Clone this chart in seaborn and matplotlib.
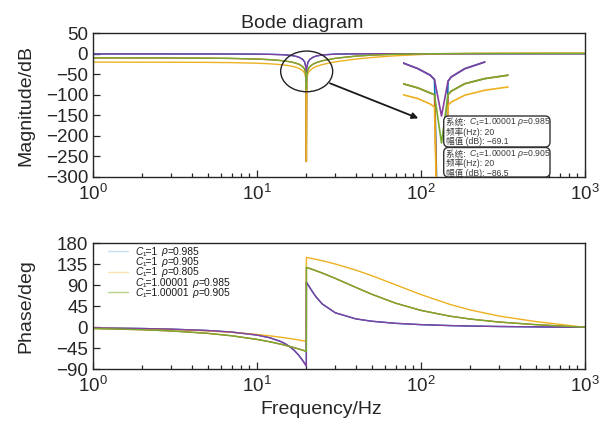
import numpy as np
import matplotlib
matplotlib.use('Agg')
import matplotlib.pyplot as plt
import seaborn as sns
from matplotlib.patches import Ellipse, FancyBboxPatch
from matplotlib.lines import Line2D

# ---------------- data ----------------
legend_c1 = ['1', '1', '1', '1.00001', '1.00001']
legend_rho = ['0.985', '0.905', '0.805', '0.985', '0.905']
series_colors = ['#0072BD', '#D95319', '#EDB120', '#8540A0', '#77AC30']
legend_alpha = [0.22, 0.0, 0.35, 0.0, 0.55]

freq_mag = [1, 2, 3, 5, 7, 10, 12, 14, 15, 16, 17, 18, 19, 19.5, 19.9, 20, 20.1, 20.5,
            21, 22, 23, 25, 30, 40, 50, 70, 100, 150, 200, 300, 500, 700, 1000]

mag_c1_rho0985 = [-0.36, -0.37, -0.39, -0.45, -0.56, -0.88, -1.31, -2.11, -2.80, -3.83, -5.47, -8.25,
                  -13.76, -19.65, -33.63, -263.0, -33.62, -19.64, -13.76, -8.24, -5.45, -2.76, -0.81,
                  -0.14, 0.00, 0.08, 0.11, 0.12, 0.13, 0.13, 0.13, 0.13, 0.13]
mag_c1_rho0905 = [-10.10, -10.18, -10.30, -10.71, -11.35, -12.86, -14.37, -16.50, -17.92, -19.71, -22.08,
                  -25.48, -31.40, -37.37, -51.35, -263.0, -51.27, -37.29, -31.23, -25.14, -21.57, -17.07,
                  -11.07, -5.68, -3.22, -1.12, -0.07, 0.46, 0.64, 0.76, 0.82, 0.84, 0.85]
mag_c1_rho0805 = [-20.39, -20.46, -20.58, -20.97, -21.58, -23.01, -24.45, -26.50, -27.87, -29.61, -31.91,
                  -35.25, -41.10, -47.03, -61.01, -263.0, -60.85, -46.87, -40.77, -34.60, -30.94, -26.23,
                  -19.66, -12.93, -9.09, -4.79, -1.81, 0.11, 0.85, 1.39, 1.68, 1.76, 1.78]
mag_c1b_rho0985 = [-0.36, -0.37, -0.39, -0.45, -0.56, -0.88, -1.31, -2.11, -2.80, -3.83, -5.47, -8.25,
                   -13.76, -19.65, -33.63, -69.1, -33.62, -19.64, -13.76, -8.24, -5.45, -2.76, -0.81,
                   -0.14, 0.00, 0.08, 0.11, 0.12, 0.13, 0.13, 0.13, 0.13, 0.13]
mag_c1b_rho0905 = [-10.10, -10.18, -10.30, -10.71, -11.35, -12.86, -14.37, -16.50, -17.92, -19.71, -22.08,
                   -25.48, -31.40, -37.37, -51.35, -86.5, -51.27, -37.29, -31.23, -25.14, -21.57, -17.07,
                   -11.07, -5.68, -3.22, -1.12, -0.07, 0.46, 0.64, 0.76, 0.82, 0.84, 0.85]

freq_phase = [1, 2, 3, 5, 7, 10, 12, 14, 15, 16, 17, 18, 19, 19.5, 19.9, 19.99, 20.01, 20.1, 20.5,
              21, 22, 23, 25, 30, 40, 50, 70, 100, 150, 200, 300, 500, 700, 1000]
phase_rho0985 = [-1.31, -2.63, -3.99, -6.89, -10.20, -16.59, -22.48, -30.67, -36.08, -42.66, -50.65,
                 -60.22, -71.24, -77.13, -81.94, -83.03, 96.73, 95.64, 90.84, 84.94, 73.95, 64.42,
                 49.99, 31.17, 18.09, 13.02, 8.52, 5.69, 3.67, 2.69, 1.71, 0.87, 0.44, 0.00]
phase_rho0905 = [-2.59, -5.18, -7.77, -12.93, -18.13, -25.92, -31.11, -36.29, -38.87, -41.44, -44.00,
                 -46.56, -49.09, -50.35, -51.35, -51.57, 128.38, 128.15, 127.16, 125.91, 123.45, 121.00,
                 116.21, 104.88, 85.59, 70.91, 51.67, 36.19, 23.87, 17.63, 11.23, 5.72, 2.91, 0.00]
phase_rho0805 = [-1.54, -3.08, -4.61, -7.68, -10.74, -15.31, -18.33, -21.34, -22.84, -24.32, -25.80,
                 -27.28, -28.76, -29.48, -30.07, -30.20, 149.77, 149.64, 149.06, 148.33, 146.88, 145.45,
                 142.60, 135.66, 122.59, 110.80, 91.13, 70.06, 49.10, 37.11, 24.03, 12.35, 6.30, 0.00]

# zoomed inset around the 20 Hz notch
inset_freq = [19.846, 19.906, 19.955, 19.972, 20.0, 20.026, 20.039, 20.093, 20.173, 20.266]
inset_c1_rho0985 = [-34.9, -38.6, -42.8, -45.6, -263.0, -46.7, -43.9, -38.6, -34.3, np.nan]
inset_c1_rho0905 = [-48.3, -51.0, -54.3, -55.4, -263.0, -55.4, -53.1, -48.3, -45.0, -42.8]
inset_c1_rho0805 = [-55.4, -57.9, -61.4, -63.3, -263.0, -62.2, -60.1, -55.7, -52.5, -50.4]
inset_c1b_rho0985 = [-34.9, -38.6, -42.8, -45.6, -69.1, -46.7, -43.9, -38.6, -34.3, np.nan]
inset_c1b_rho0905 = [-48.3, -51.0, -54.3, -55.4, -86.5, -55.4, -53.1, -48.3, -45.0, -42.8]

datatip_lines = [
    ('系统: ', r'$C_1$=1.00001 $\rho$=0.985', '频率(Hz): 20', '幅值 (dB): \u221269.1'),
    ('系统: ', r'$C_1$=1.00001 $\rho$=0.905', '频率(Hz): 20', '幅值 (dB): \u221286.5'),
]

mag_series = [mag_c1_rho0985, mag_c1_rho0905, mag_c1_rho0805, mag_c1b_rho0985, mag_c1b_rho0905]
phase_series = [phase_rho0985, phase_rho0905, phase_rho0805, phase_rho0985, phase_rho0905]
inset_series = [inset_c1_rho0985, inset_c1_rho0905, inset_c1_rho0805, inset_c1b_rho0985, inset_c1b_rho0905]

# ---------------- style ----------------
sns.set_style('ticks')
plt.rcParams['font.family'] = ['Liberation Sans', 'Noto Sans CJK SC', 'DejaVu Sans']
plt.rcParams['mathtext.fontset'] = 'custom'
plt.rcParams['mathtext.rm'] = 'Liberation Sans'
plt.rcParams['mathtext.it'] = 'Liberation Sans:italic'
plt.rcParams['mathtext.bf'] = 'Liberation Sans:bold'
plt.rcParams['axes.unicode_minus'] = True

W, H = 608, 422
fig = plt.figure(figsize=(W / 100, H / 100), dpi=100)
ax1 = fig.add_axes([93 / W, 1 - 176.7 / H, 492 / W, 143.4 / H])
ax2 = fig.add_axes([93 / W, 1 - 369.3 / H, 492 / W, 126 / H])

for vals, col in zip(mag_series, series_colors):
    sns.lineplot(x=freq_mag, y=vals, ax=ax1, color=col, linewidth=1.0,
                 estimator=None, sort=False, legend=False)
for vals, col in zip(phase_series, series_colors):
    sns.lineplot(x=freq_phase, y=vals, ax=ax2, color=col, linewidth=1.0,
                 estimator=None, sort=False, legend=False)

spine_col = '#262626'
for ax in (ax1, ax2):
    ax.set_xscale('log')
    ax.set_xlim(1, 1000)
    ax.tick_params(which='both', direction='in', top=False, right=False,
                   labelsize=13.5, color=spine_col, width=0.9)
    ax.tick_params(which='major', length=5)
    ax.tick_params(which='minor', length=3)
    ax.tick_params(axis='x', pad=5)
    for sp in ax.spines.values():
        sp.set_color(spine_col)
        sp.set_linewidth(1.0)

ax1.set_ylim(-300, 50)
ax1.set_yticks(np.arange(-300, 51, 50))
ax2.set_ylim(-90, 180)
ax2.set_yticks(np.arange(-90, 181, 45))

ax1.set_ylabel('Magnitude/dB', fontsize=14)
ax2.set_ylabel('Phase/deg', fontsize=14)
ax1.yaxis.set_label_coords(-0.12, 0.5)
ax2.yaxis.set_label_coords(-0.12, 0.5)
ax2.set_xlabel('Frequency/Hz', fontsize=14)
ax2.xaxis.set_label_coords(0.463, -0.25)
ax1.set_xlabel('')
ax1.set_title('Bode diagram', fontsize=14, x=0.425, pad=4)

# legend, drawn row by row (italic C and rho, plain subscript/values)
renderer = fig.canvas.get_renderer()
leg_fs = 7.4
leg_px = leg_fs * 100 / 72
row_y = [250.8, 261.2, 271.6, 282.0, 292.4]
for yc, c1, rho, col, a in zip(row_y, legend_c1, legend_rho, series_colors, legend_alpha):
    fig.add_artist(Line2D([108 / W, 128 / W], [1 - yc / H, 1 - yc / H], color=col, lw=1.0,
                          alpha=a, transform=fig.transFigure))
    pieces = [('C', 'italic', 0.0), ('\u2081=' + c1, 'normal', 0.0),
              ('\u03c1', 'italic', 0.278 * leg_px), ('=' + rho, 'normal', 0.0)]
    x = 135.0
    base = yc + 0.36 * leg_px
    for txt, sty, gap in pieces:
        x += gap
        t = fig.text(x / W, 1 - base / H, txt, fontsize=leg_fs, style=sty, color='#1a1a1a',
                     va='baseline', ha='left')
        bb = t.get_window_extent(renderer=renderer)
        x = bb.x1 + 0.3

# ellipse + arrow
ax1.add_patch(Ellipse((0.4343, 0.7343), 0.1057, 0.2838, transform=ax1.transAxes,
                      fill=False, ec='#222222', lw=1.0, zorder=5))
ax1.annotate('', xy=(418.3, H - 118.3), xytext=(330, H - 83.3),
             xycoords='figure pixels', textcoords='figure pixels',
             arrowprops=dict(arrowstyle='-|>', color='#1a1a1a', lw=1.3,
                             mutation_scale=9, shrinkA=0, shrinkB=0))

# inset
axin = fig.add_axes([403 / W, 1 - 177 / H, 107 / W, 119 / H])
for vals, col in zip(inset_series, series_colors):
    sns.lineplot(x=inset_freq, y=vals, ax=axin, color=col, linewidth=1.2,
                 estimator=None, sort=False, legend=False)
axin.set_xlim(19.846, 20.274)
axin.set_ylim(-108.45, -31.7)
axin.axis('off')

# datatips
boxes = [(443.7, 116.0, 147.0), (443.7, 147.5, 177.0)]
for (x0, ytop, ybot), lines in zip(boxes, datatip_lines):
    fig.add_artist(FancyBboxPatch((x0 / 100, (H - ybot) / 100), (550 - x0) / 100, (ybot - ytop) / 100,
                                  boxstyle='round,pad=0,rounding_size=0.05',
                                  transform=fig.dpi_scale_trans, fc='white', ec='#333333',
                                  lw=1.0, zorder=6))
    pre, math_part, l2, l3 = lines
    ys = [ytop + 6.5, ytop + 16.0, ytop + 25.5]
    tc = '#3a3a3a'
    fig.text(446.5 / W, 1 - ys[0] / H, pre, fontsize=6.2, color=tc, va='center', ha='left', zorder=7)
    fig.text(469.0 / W, 1 - ys[0] / H, math_part, fontsize=6.2, color=tc, va='center', ha='left', zorder=7)
    fig.text(446.5 / W, 1 - ys[1] / H, l2, fontsize=6.2, color=tc, va='center', ha='left', zorder=7)
    fig.text(446.5 / W, 1 - ys[2] / H, l3, fontsize=6.2, color=tc, va='center', ha='left', zorder=7)

fig.savefig('out.png', dpi=100)
